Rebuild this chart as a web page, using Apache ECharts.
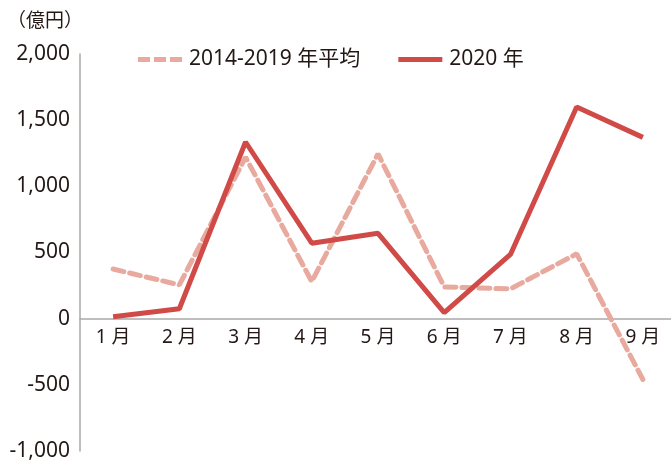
<!DOCTYPE html>
<html><head><meta charset="utf-8">
<script src="https://cdn.jsdelivr.net/npm/echarts@6/dist/echarts.min.js"></script>
<style>html,body{margin:0;padding:0;background:#fff}#c{width:671px;height:463px}</style>
</head><body><div id="c"></div>
<script>
const categories = ['1 月','2 月','3 月','4 月','5 月','6 月','7 月','8 月','9 月'];
const avg2014_2019 = [375, 255, 1220, 280, 1245, 240, 225, 490, -460];
const y2020 = [15, 75, 1335, 570, 645, 45, 485, 1600, 1370];
const yTicks = {min: -1000, max: 2000, interval: 500};
const FONT = "'Noto Sans','Noto Sans CJK JP',sans-serif";
const chart = echarts.init(document.getElementById('c'));
chart.setOption({
  animation: false,
  title: {text: '（億円）', left: 2, top: 5, textStyle: {fontSize: 19, fontWeight: 'normal', color: '#231815', fontFamily: "'Noto Sans CJK JP',sans-serif"}},
  legend: {
    left: 133, top: 44, itemWidth: 44, itemHeight: 6, itemGap: 38,
    textStyle: {fontSize: 21, color: '#231815', fontFamily: FONT, padding: [0,0,0,2]},
    data: [
      {name: '2014-2019 年平均', icon: 'path://M0,0h12v5h-12z M16,0h12v5h-12z M32,0h12v5h-12z', itemStyle: {color: '#e8a99e'}},
      {name: '2020 年', icon: 'path://M0,0h44v5h-44z', itemStyle: {color: '#d04b48'}}
    ]
  },
  grid: {left: 80, top: 54, width: 596, bottom: 12, containLabel: false, outerBoundsMode: 'none'},
  xAxis: {
    type: 'category', data: categories, boundaryGap: true,
    offset: -132,
    axisLine: {onZero: false, lineStyle: {color: '#a9a9a9', width: 1.5}},
    axisTick: {show: false},
    axisLabel: {fontSize: 19, color: '#231815', fontFamily: FONT, margin: 9}
  },
  yAxis: {
    type: 'value', min: yTicks.min, max: yTicks.max, interval: yTicks.interval,
    axisLine: {show: true, lineStyle: {color: '#a9a9a9', width: 1.5}},
    axisTick: {show: false},
    splitLine: {show: false},
    axisLabel: {fontSize: 21, color: '#231815', fontFamily: FONT, margin: 10,
      formatter: v => v.toLocaleString('en-US')}
  },
  series: [
    {name: '2014-2019 年平均', type: 'line', data: avg2014_2019, symbol: 'none', z: 2,
     lineStyle: {color: '#e8a99e', width: 5, type: [11, 6], cap: 'round'}, itemStyle: {color: '#e8a99e'}},
    {name: '2020 年', type: 'line', data: y2020, symbol: 'none', z: 3,
     lineStyle: {color: '#d04b48', width: 5}, itemStyle: {color: '#d04b48'}}
  ]
});
</script></body></html>
